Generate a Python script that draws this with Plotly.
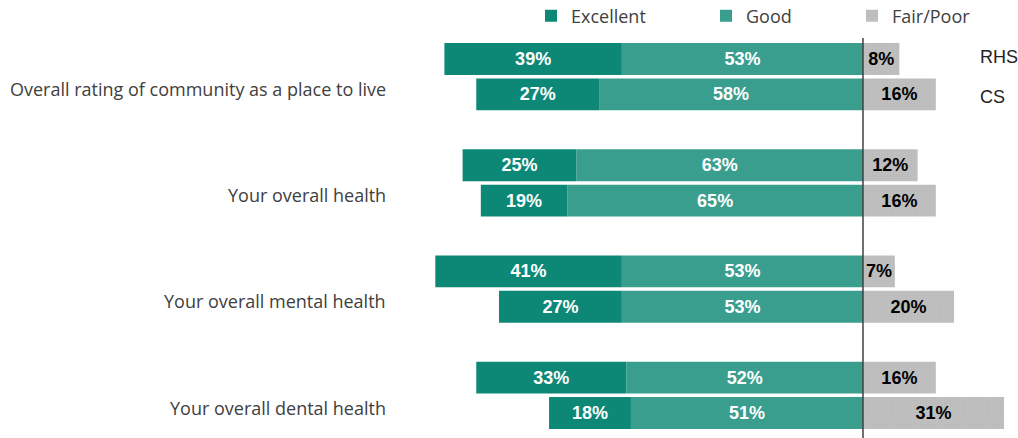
import plotly.graph_objects as go

categories = [
    "Overall rating of community as a place to live",
    "Your overall health",
    "Your overall mental health",
    "Your overall dental health",
]
groups = ["RHS", "CS"]

# values ordered [cat0 RHS, cat0 CS, cat1 RHS, cat1 CS, ...]
excellent = [39, 27, 25, 19, 41, 27, 33, 18]
good = [53, 58, 63, 65, 53, 53, 52, 51]
fair_poor = [8, 16, 12, 16, 7, 20, 16, 31]

C_EXC = "#0d8876"
C_GOOD = "#3a9e8f"
C_FAIR = "#c0c0c0"

# numeric bar positions: group i -> RHS at 3i, CS at 3i+1
ypos = []
for i in range(len(categories)):
    for j in range(len(groups)):
        ypos.append(3 * i + j)

bar_font = dict(family="Liberation Sans, Arial", size=18)
common_bar = dict(orientation="h", textposition="inside", insidetextanchor="middle",
                  constraintext="none", textangle=0, texttemplate="<b>%{text}</b>",
                  width=0.9, hoverinfo="skip")

fig = go.Figure()
fig.add_trace(go.Bar(
    name="Good", y=ypos, x=[-v for v in good],
    marker=dict(color=C_GOOD, line=dict(width=0)),
    text=[f"{v}%" for v in good],
    textfont=dict(color="white", **bar_font), legend="legend2", **common_bar,
))
fig.add_trace(go.Bar(
    name="Excellent", y=ypos, x=[-v for v in excellent],
    marker=dict(color=C_EXC, line=dict(width=0)),
    text=[f"{v}%" for v in excellent],
    textfont=dict(color="white", **bar_font), legend="legend", **common_bar,
))
fig.add_trace(go.Bar(
    name="Fair/Poor", y=ypos, x=fair_poor,
    marker=dict(color=C_FAIR, line=dict(width=0),
                pattern=dict(shape=".", fgcolor="#b2b2b2", bgcolor=C_FAIR, size=3, solidity=0.35)),
    text=[f"{v}%" for v in fair_poor],
    textfont=dict(color="black", **bar_font), legend="legend3", **common_bar,
))

W, H = 1018, 438
# zero line
fig.add_shape(type="line", xref="x", yref="paper", x0=0, x1=0, y0=0, y1=(H - 38) / H,
              line=dict(color="#404040", width=1.5))

# category labels
for i, cat in enumerate(categories):
    fig.add_annotation(text=cat, xref="paper", x=-12 / 613, xanchor="right",
                       yref="y", y=3 * i + 0.85, showarrow=False,
                       font=dict(family="Open Sans", size=18, color="#404040"))

# group labels
for j, g in enumerate(groups):
    fig.add_annotation(text=g, xref="paper", x=(978 - 400) / 613, xanchor="left",
                       yref="y", y=j, yshift=2 if j == 0 else -3, showarrow=False,
                       font=dict(family="Liberation Sans, Arial", size=18, color="#222222"))

leg_common = dict(orientation="h", xref="paper", yref="paper", yanchor="middle",
                  y=1 - 16 / H, font=dict(family="Open Sans", size=18, color="#404040"),
                  bgcolor="rgba(0,0,0,0)", itemwidth=30)

fig.update_layout(
    width=W, height=H,
    margin=dict(l=400, r=5, t=0, b=0, autoexpand=False),
    barmode="relative",
    plot_bgcolor="white", paper_bgcolor="white",
    xaxis=dict(range=[-101.76, 32.97], visible=False, fixedrange=True),
    yaxis=dict(range=[(H - 59) / 35.4, -59 / 35.4], visible=False, fixedrange=True),
    showlegend=True,
    legend=dict(x=(531 - 400) / 613, **leg_common),
    legend2=dict(x=(706 - 400) / 613, **leg_common),
    legend3=dict(x=(852 - 400) / 613, **leg_common),
)

fig.write_html(
    "out.html",
    config={"displayModeBar": False},
    post_script="document.body.style.margin='0';document.body.style.overflow='hidden';",
)
